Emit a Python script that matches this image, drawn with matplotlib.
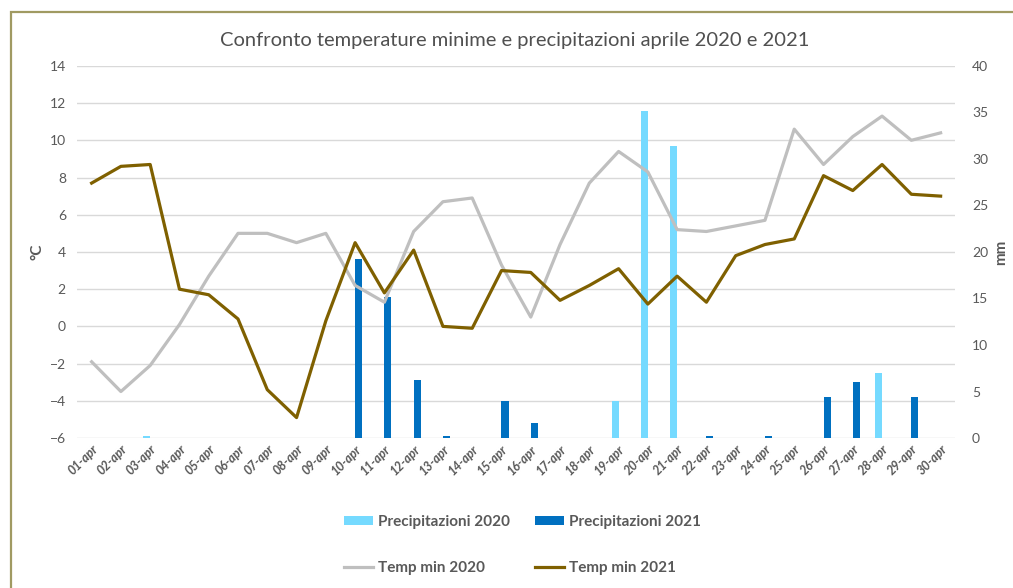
import numpy as np
import matplotlib
matplotlib.use("Agg")
import matplotlib.pyplot as plt
from matplotlib.patches import Rectangle

plt.rcParams['font.family'] = ['Lato', 'DejaVu Sans']

days = ["%02d-apr" % d for d in range(1, 31)]

temp_2020 = [-1.9, -3.5, -2.1, 0.1, 2.7, 5.0, 5.0, 4.5, 5.0, 2.2,
             1.3, 5.1, 6.7, 6.9, 3.3, 0.5, 4.4, 7.7, 9.4, 8.3,
             5.2, 5.1, 5.4, 5.7, 10.6, 8.7, 10.2, 11.3, 10.0, 10.4]
temp_2021 = [7.7, 8.6, 8.7, 2.0, 1.7, 0.4, -3.4, -4.9, 0.3, 4.5,
             1.8, 4.1, 0.0, -0.1, 3.0, 2.9, 1.4, 2.2, 3.1, 1.2,
             2.7, 1.3, 3.8, 4.4, 4.7, 8.1, 7.3, 8.7, 7.1, 7.0]
rain_2020 = [0, 0, 0.2, 0, 0, 0, 0, 0, 0, 0,
             0, 0, 0, 0, 0, 0, 0, 0, 4.0, 35.2,
             31.4, 0, 0, 0, 0, 0, 0, 7.0, 0, 0]
rain_2021 = [0, 0, 0, 0, 0, 0, 0, 0, 0, 19.2,
             15.2, 6.2, 0.2, 0, 4.0, 1.6, 0, 0, 0, 0,
             0, 0.2, 0, 0.2, 0, 4.4, 6.0, 0, 4.4, 0]

txt = '#595959'
x = np.arange(len(days))

fig = plt.figure(figsize=(10.13, 5.88), dpi=100)
ax = fig.add_axes([0.076, 0.255, 0.867, 0.633])   # mm axis (bars)
ax2 = ax.twinx()                                  # temperature axis

# gridlines belong to the °C scale (-6..14 step 2 -> 0..40 step 4 in mm)
for g in np.arange(0, 41, 4):
    ax.axhline(g, color='#D9D9D9', lw=1, zorder=0)

w = 0.24
b1 = ax.bar(x, rain_2020, width=-w, align='edge', color='#75DAFF', zorder=2,
            label='Precipitazioni 2020')
b2 = ax.bar(x, rain_2021, width=w, align='edge', color='#0070C0', zorder=2,
            label='Precipitazioni 2021')

l1, = ax2.plot(x, temp_2020, color='#BFBFBF', lw=2.3, label='Temp min 2020')
l2, = ax2.plot(x, temp_2021, color='#7F6000', lw=2.3, label='Temp min 2021')

ax.set_xlim(-0.5, 29.5)
ax.set_ylim(0, 40)
ax2.set_ylim(-6, 14)
ax.set_yticks(range(0, 41, 5))
ax2.set_yticks(range(-6, 15, 2))

ax.yaxis.tick_right()
ax.yaxis.set_label_position('right')
ax2.yaxis.tick_left()
ax2.yaxis.set_label_position('left')

for a in (ax, ax2):
    for s in a.spines.values():
        s.set_visible(False)
    a.tick_params(length=0, colors=txt, labelsize=10)

ax.tick_params(axis='y', pad=12)
ax2.tick_params(axis='y', pad=8)

ax.set_xticks(x)
ax.set_xticklabels(days, rotation=45, ha='right', rotation_mode='anchor',
                   fontsize=9, color=txt, style='italic', fontweight='bold')

ax2.set_ylabel('°C', color=txt, fontsize=11, fontweight='bold', labelpad=4)
ax.set_ylabel('mm', color=txt, fontsize=11, fontweight='bold', labelpad=4)

fig.suptitle('Confronto temperature minime e precipitazioni aprile 2020 e 2021',
             x=0.508, y=0.945, fontsize=14.5, color='#505050')

fig.legend([b1, l1, b2, l2],
           ['Precipitazioni 2020', 'Temp min 2020', 'Precipitazioni 2021', 'Temp min 2021'],
           ncol=2, loc='center', bbox_to_anchor=(0.516, 0.073), frameon=False,
           prop={'weight': 'bold', 'size': 11}, labelcolor=txt,
           handlelength=1.9, handleheight=0.6, handletextpad=0.35,
           columnspacing=1.6, labelspacing=2.1)

# outer frame of the chart box
fig.add_artist(Rectangle((11 / 1013, -0.05), 1.1, 1 - 12 / 588 + 0.05,
                         transform=fig.transFigure, fill=False,
                         edgecolor='#A09A62', lw=1.6, clip_on=False))

fig.savefig('out.png', dpi=100)
